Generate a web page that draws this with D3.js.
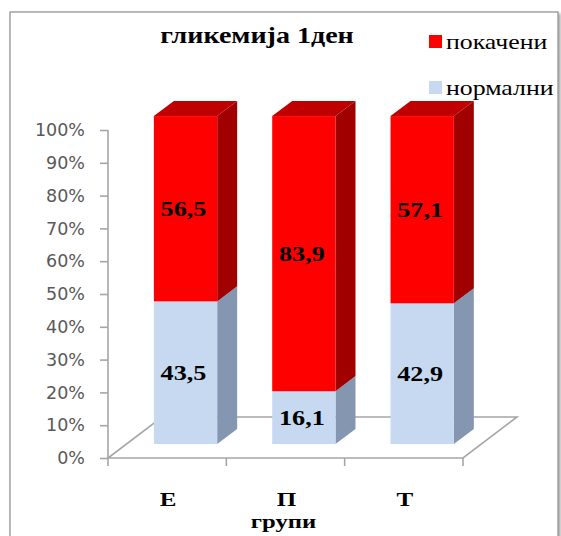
<!DOCTYPE html>
<html>
<head>
<meta charset="utf-8">
<script src="https://cdn.jsdelivr.net/npm/d3@7"></script>
<style>
  html, body { margin: 0; padding: 0; background: #fff; }
  svg { display: block; }
</style>
</head>
<body>
<svg id="chart" width="561" height="536"></svg>
<script>
// Glycemia on day 1, share of normal vs raised values per group (percent)
const groups = ["Е", "П", "Т"];
const normal = [43.5, 16.1, 42.9];
const raised = [56.5, 83.9, 57.1];
const seriesNames = ["покачени", "нормални"];
const yTicks = [0, 10, 20, 30, 40, 50, 60, 70, 80, 90, 100];

const svg = d3.select("#chart");

// outer chart frame with a soft shadow
const defs = svg.append("defs");
const sh = defs.append("filter").attr("id", "shadow").attr("x", "-5%").attr("y", "-5%").attr("width", "110%").attr("height", "110%");
sh.append("feDropShadow").attr("dx", 2).attr("dy", 2).attr("stdDeviation", 1.5).attr("flood-color", "#000").attr("flood-opacity", 0.35);
svg.append("rect").attr("x", 10).attr("y", 12).attr("width", 548).attr("height", 530)
  .attr("fill", "#fff").attr("stroke", "#8c8c8c").attr("stroke-width", 1.2).attr("filter", "url(#shadow)");

// plot geometry
const x0 = 108, x1 = 463, yBase = 458, yTop = 130;
const depth = { dx: 54, dy: -41 };      // full floor depth
const dFront = 0.34, dBack = 0.71;      // bar position within the depth
const barFrac = 0.535;

const x = d3.scaleBand().domain(groups).range([x0, x1]).padding(0);
const y = d3.scaleLinear().domain([0, 100]).range([yBase, yTop]);

const axisColor = "#a6a6a6";
const serif = "'Liberation Serif', 'Times New Roman', serif";

// floor outline
svg.append("path").attr("fill", "none").attr("stroke", axisColor).attr("stroke-width", 1.6)
  .attr("d", `M${x0},${yBase} L${x1},${yBase} L${x1 + depth.dx},${yBase + depth.dy} L${x0 + depth.dx},${yBase + depth.dy} Z`);

// value axis
const yAxis = svg.append("g").attr("transform", `translate(${x0},0)`)
  .call(d3.axisLeft(y).tickValues(yTicks).tickSize(8).tickFormat(d => d + "%").tickPadding(15));
yAxis.select(".domain").attr("stroke", axisColor).attr("stroke-width", 1.6).attr("d", `M0,${yTop}V${yBase}`);
yAxis.selectAll(".tick line").attr("stroke", axisColor).attr("stroke-width", 1.6);
yAxis.selectAll(".tick text").attr("fill", "#595959")
  .style("font-family", "'DejaVu Sans', sans-serif").style("font-size", "17.5px");

// category axis ticks hanging below the front floor edge
const catTicks = x.domain().map(g => x(g)).concat([x1]);
svg.append("g").selectAll("line").data(catTicks).join("line")
  .attr("x1", d => d).attr("x2", d => d).attr("y1", yBase).attr("y2", yBase + 8)
  .attr("stroke", axisColor).attr("stroke-width", 1.6);

// bars
const colors = {
  normal: { front: "#c6d9f1", side: "#8496b0", top: "#a9bcd6" },
  raised: { front: "#ff0000", side: "#a00000", top: "#c00000" }
};
const bw = x.bandwidth() * barFrac;
const fdx = depth.dx * dFront, fdy = depth.dy * dFront;
const bdx = depth.dx * (dBack - dFront), bdy = depth.dy * (dBack - dFront);

const barsG = svg.append("g");
groups.forEach((g, i) => {
  const left = x(g) + (x.bandwidth() - bw) / 2 + fdx;
  const right = left + bw;
  const segs = [
    { key: "normal", from: 0, to: normal[i] },
    { key: "raised", from: normal[i], to: normal[i] + raised[i] }
  ];
  segs.forEach((s, k) => {
    const yb = y(s.from) + fdy, yt = y(s.to) + fdy;
    const c = colors[s.key];
    barsG.append("path").attr("fill", c.side)
      .attr("d", `M${right},${yb} L${right + bdx},${yb + bdy} L${right + bdx},${yt + bdy} L${right},${yt} Z`);
    barsG.append("rect").attr("x", left).attr("y", yt).attr("width", bw).attr("height", yb - yt).attr("fill", c.front);
    if (k === segs.length - 1) {
      barsG.append("path").attr("fill", c.top)
        .attr("d", `M${left},${yt} L${left + bdx},${yt + bdy} L${right + bdx},${yt + bdy} L${right},${yt} Z`);
    }
    const val = s.to - s.from;
    barsG.append("text")
      .attr("transform", `translate(${(left + right) / 2 - 2},${(yb + yt) / 2}) scale(1.22,1)`)
      .attr("text-anchor", "middle").attr("dominant-baseline", "central")
      .style("font-family", serif).style("font-weight", "bold").style("font-size", "21.5px")
      .attr("fill", "#000")
      .text(d3.format(".1f")(val).replace(".", ","));
  });
});

// category labels and axis title
svg.append("g").selectAll("text").data(groups).join("text")
  .attr("transform", d => `translate(${x(d) + x.bandwidth() / 2 + 1},506) scale(1.32,1)`)
  .attr("text-anchor", "middle")
  .style("font-family", serif).style("font-weight", "bold").style("font-size", "19px")
  .text(d => d);
svg.append("text")
  .attr("transform", `translate(${x(groups[1]) + x.bandwidth() / 2 - 2},528) scale(1.3,1)`)
  .attr("text-anchor", "middle")
  .style("font-family", serif).style("font-weight", "bold").style("font-size", "19px")
  .text("групи");

// title
svg.append("text")
  .attr("transform", "translate(257,43) scale(1.22,1)")
  .attr("text-anchor", "middle")
  .style("font-family", serif).style("font-weight", "bold").style("font-size", "23px")
  .text("гликемија 1ден");

// legend
const legendColors = [colors.raised.front, colors.normal.front];
const lg = svg.append("g").selectAll("g").data(seriesNames).join("g")
  .attr("transform", (d, i) => `translate(429,${35 + i * 46})`);
lg.append("rect").attr("width", 13).attr("height", 13).attr("fill", (d, i) => legendColors[i]);
lg.append("text").attr("transform", "translate(17,14) scale(1.2,1)")
  .style("font-family", serif).style("font-size", "21.5px")
  .text(d => d);
</script>
</body>
</html>
